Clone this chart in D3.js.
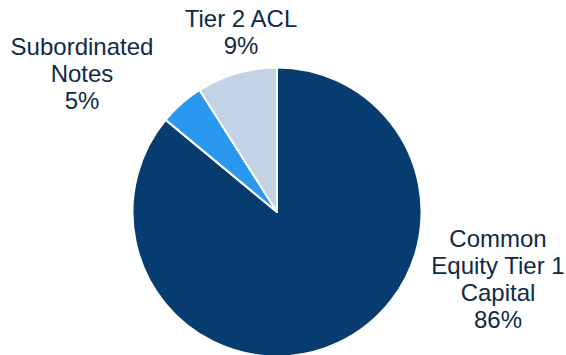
<!DOCTYPE html>
<html><head><meta charset="utf-8">
<script src="https://cdn.jsdelivr.net/npm/d3@7"></script>
<style>html,body{margin:0;padding:0;background:#fff;}</style>
</head><body>
<svg id="c" width="566" height="355"></svg>
<script>
const categories = ["Common Equity Tier 1 Capital", "Subordinated Notes", "Tier 2 ACL"];
const values = [86, 5, 9];
const colors = ["#063C70", "#2998EE", "#C3D3E5"];
const labelLines = [["Common", "Equity Tier 1", "Capital", "86%"], ["Subordinated", "Notes", "5%"], ["Tier 2 ACL", "9%"]];
const labelPos = [[498, 247], [82, 55], [241, 27]];

const svg = d3.select("#c");
const cx = 277, cy = 212, r = 144.5;
const pie = d3.pie().sort(null).value(d => d)(values);
const arc = d3.arc().innerRadius(0).outerRadius(r);
const g = svg.append("g").attr("transform", `translate(${cx},${cy})`);
g.selectAll("path").data(pie).join("path")
  .attr("d", arc).attr("fill", (d, i) => colors[i])
  .attr("stroke", "#fff").attr("stroke-width", 2).attr("stroke-linejoin", "round");

labelLines.forEach((lines, i) => {
  const t = svg.append("text").attr("text-anchor", "middle")
    .attr("font-family", "Liberation Sans, Arial, sans-serif").attr("font-size", 24)
    .attr("fill", "#0F2A47");
  lines.forEach((s, j) => {
    t.append("tspan").attr("x", labelPos[i][0]).attr("y", labelPos[i][1] + j * 27).text(s);
  });
});
</script>
</body></html>
